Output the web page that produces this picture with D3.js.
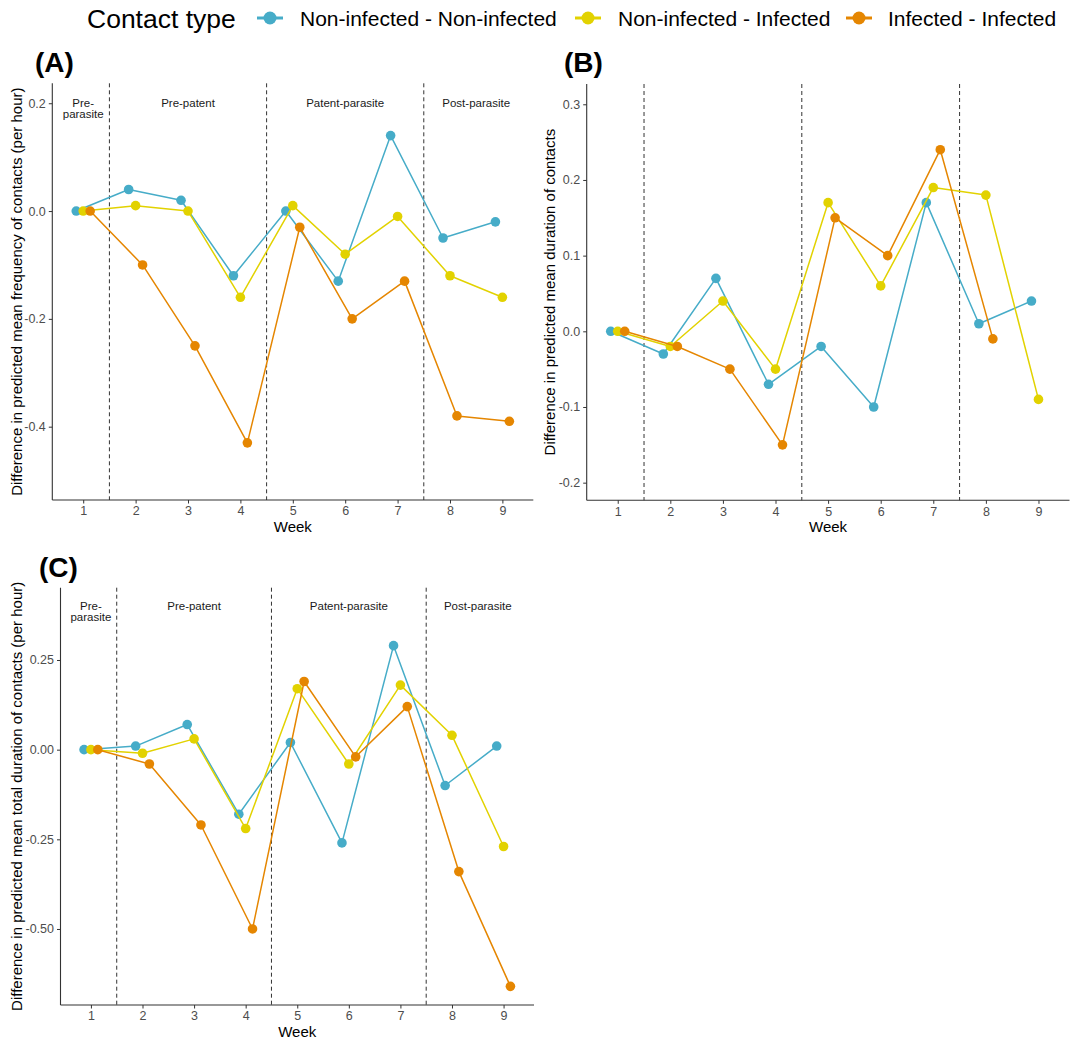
<!DOCTYPE html>
<html>
<head>
<meta charset="utf-8">
<script src="https://cdn.jsdelivr.net/npm/d3@7"></script>
<style>
  html, body { margin: 0; padding: 0; background: #fff; }
  svg { display: block; font-family: "Liberation Sans", Arial, sans-serif; }
</style>
</head>
<body>
<svg id="chart" width="1071" height="1041"></svg>
<script>
// Weeks of the experiment and contact types
const weeks = [1, 2, 3, 4, 5, 6, 7, 8, 9];
const contactTypes = ["Non-infected - Non-infected", "Non-infected - Infected", "Infected - Infected"];
const typeColors = ["#46ACC8", "#E2D200", "#E58601"];

// (A) difference in predicted mean frequency of contacts (per hour)
const freqNN = [0, 0.04, 0.02, -0.12, 0, -0.13, 0.14, -0.05, -0.02];
const freqNI = [0, 0.01, 0, -0.16, 0.01, -0.08, -0.01, -0.12, -0.16];
const freqII = [0, -0.10, -0.25, -0.43, -0.03, -0.20, -0.13, -0.38, -0.39];

// (B) difference in predicted mean duration of contacts
const durNN = [0, -0.03, 0.07, -0.07, -0.02, -0.10, 0.17, 0.01, 0.04];
const durNI = [0, -0.02, 0.04, -0.05, 0.17, 0.06, 0.19, 0.18, -0.09];
const durII = [0, -0.02, -0.05, -0.15, 0.15, 0.10, 0.24, -0.01, null];

// (C) difference in predicted mean total duration of contacts (per hour)
const totNN = [0, 0.01, 0.07, -0.18, 0.02, -0.26, 0.29, -0.10, 0.01];
const totNI = [0, -0.01, 0.03, -0.22, 0.17, -0.04, 0.18, 0.04, -0.27];
const totII = [0, -0.04, -0.21, -0.50, 0.19, -0.02, 0.12, -0.34, -0.66];

// Axis ticks
const ticksA = [0.2, 0.0, -0.2, -0.4];
const ticksB = [0.3, 0.2, 0.1, 0.0, -0.1, -0.2];
const ticksC = [0.25, 0.00, -0.25, -0.50];

// Phase boundaries and labels
const phaseBreaks = [1.5, 4.5, 7.5];
const phaseNames = ["Pre-\nparasite", "Pre-patent", "Patent-parasite", "Post-parasite"];
const phaseWeeks = [1, 3, 6, 8.5];

const svg = d3.select("#chart");

// horizontal dodge of the three contact types within a week
const dodge = [-0.133, 0, 0.133];

const panels = [
  {
    tag: "(A)", tagX: 35, tagY: 72,
    left: 52.3, right: 533.3, top: 83.3, bottom: 500,
    yDomain: [-0.536, 0.237], ticks: ticksA, fmt: d3.format(".1f"),
    yTitle: "Difference in predicted mean frequency of contacts (per hour)", yTitleX: 17,
    series: [freqNN, freqNI, freqII], phaseY: 0.2
  },
  {
    tag: "(B)", tagX: 564, tagY: 72,
    left: 586.7, right: 1069.5, top: 84, bottom: 500.3,
    yDomain: [-0.2233, 0.3268], ticks: ticksB, fmt: d3.format(".1f"),
    yTitle: "Difference in predicted mean duration of contacts", yTitleX: 550,
    series: [durNN, durNI, durII], phaseY: null
  },
  {
    tag: "(C)", tagX: 39, tagY: 577,
    left: 60.5, right: 534, top: 587.7, bottom: 1005,
    yDomain: [-0.712, 0.4516], ticks: ticksC, fmt: d3.format(".2f"),
    yTitle: "Difference in predicted mean total duration of contacts (per hour)", yTitleX: 17,
    series: [totNN, totNI, totII], phaseY: 0.4
  }
];

const minus = s => s.replace("\u2212", "-");

panels.forEach(p => {
  const x = d3.scaleLinear().domain([0.41, 9.59]).range([p.left, p.right]);
  const y = d3.scaleLinear().domain(p.yDomain).range([p.bottom, p.top]);
  const g = svg.append("g");

  // phase boundaries
  g.selectAll("line.phase").data(phaseBreaks).join("line")
    .attr("x1", d => x(d)).attr("x2", d => x(d))
    .attr("y1", p.top).attr("y2", p.bottom)
    .attr("stroke", "#333").attr("stroke-width", 1)
    .attr("stroke-dasharray", "4,3");

  // phase labels
  if (p.phaseY !== null) {
    phaseNames.forEach((name, i) => {
      const lines = name.split("\n");
      const t = g.append("text")
        .attr("x", x(phaseWeeks[i]))
        .attr("y", y(p.phaseY) + 4)
        .attr("text-anchor", "middle")
        .attr("font-size", 11.5)
        .attr("fill", "#1a1a1a");
      lines.forEach((ln, j) => {
        t.append("tspan").attr("x", x(phaseWeeks[i])).attr("dy", j === 0 ? 0 : 10.5).text(ln);
      });
    });
  }

  // y axis
  const yAxis = d3.axisLeft(y).tickValues(p.ticks).tickSize(3.5).tickPadding(3)
    .tickFormat(d => minus(p.fmt(d)));
  const ya = g.append("g").attr("transform", `translate(${p.left},0)`).call(yAxis);
  ya.select(".domain").attr("stroke", "#333").attr("stroke-width", 1.1)
    .attr("d", `M0,${p.top}V${p.bottom}`);
  ya.selectAll(".tick line").attr("stroke", "#333");
  ya.selectAll(".tick text").attr("fill", "#4D4D4D").attr("font-size", 12.5)
    .attr("font-family", "Liberation Sans, Arial, sans-serif");

  // x axis
  const xAxis = d3.axisBottom(x).tickValues(weeks).tickSize(3.5).tickPadding(3)
    .tickFormat(d3.format("d"));
  const xa = g.append("g").attr("transform", `translate(0,${p.bottom})`).call(xAxis);
  xa.select(".domain").attr("stroke", "#333").attr("stroke-width", 1.1)
    .attr("d", `M${p.left},0H${p.right}`);
  xa.selectAll(".tick line").attr("stroke", "#333");
  xa.selectAll(".tick text").attr("fill", "#4D4D4D").attr("font-size", 12.5)
    .attr("font-family", "Liberation Sans, Arial, sans-serif");

  // axis titles
  g.append("text")
    .attr("x", (p.left + p.right) / 2).attr("y", p.bottom + 32)
    .attr("text-anchor", "middle").attr("font-size", 15).attr("fill", "#000")
    .text("Week");
  g.append("text")
    .attr("transform", `translate(${p.yTitleX + 5},${(p.top + p.bottom) / 2}) rotate(-90)`)
    .attr("text-anchor", "middle").attr("font-size", 15).attr("fill", "#000")
    .text(p.yTitle);

  // panel tag
  g.append("text")
    .attr("x", p.tagX).attr("y", p.tagY)
    .attr("font-size", 28).attr("font-weight", "bold").attr("fill", "#000")
    .text(p.tag);

  // series lines and points
  p.series.forEach((vals, si) => {
    const pts = weeks.map((w, i) => ({ w: w + dodge[si], v: vals[i] }));
    const line = d3.line()
      .defined(d => d.v !== null)
      .x(d => x(d.w)).y(d => y(d.v));
    g.append("path").datum(pts)
      .attr("d", line)
      .attr("fill", "none")
      .attr("stroke", typeColors[si])
      .attr("stroke-width", 1.5)
      .attr("stroke-linejoin", "round");
    g.selectAll(null).data(pts.filter(d => d.v !== null)).join("circle")
      .attr("cx", d => x(d.w)).attr("cy", d => y(d.v))
      .attr("r", 4.8)
      .attr("fill", typeColors[si]);
  });
});

// legend
const legend = svg.append("g");
legend.append("text")
  .attr("x", 87).attr("y", 28)
  .attr("font-size", 26.5).attr("fill", "#000")
  .text("Contact type");
const keyX = [270, 588, 859];
const labelX = [300, 618, 888];
contactTypes.forEach((name, i) => {
  legend.append("line")
    .attr("x1", keyX[i] - 13).attr("x2", keyX[i] + 13)
    .attr("y1", 18).attr("y2", 18)
    .attr("stroke", typeColors[i]).attr("stroke-width", 3);
  legend.append("circle")
    .attr("cx", keyX[i]).attr("cy", 18).attr("r", 6.5)
    .attr("fill", typeColors[i]);
  legend.append("text")
    .attr("x", labelX[i]).attr("y", 26)
    .attr("font-size", 21).attr("fill", "#000")
    .text(name);
});
</script>
</body>
</html>
